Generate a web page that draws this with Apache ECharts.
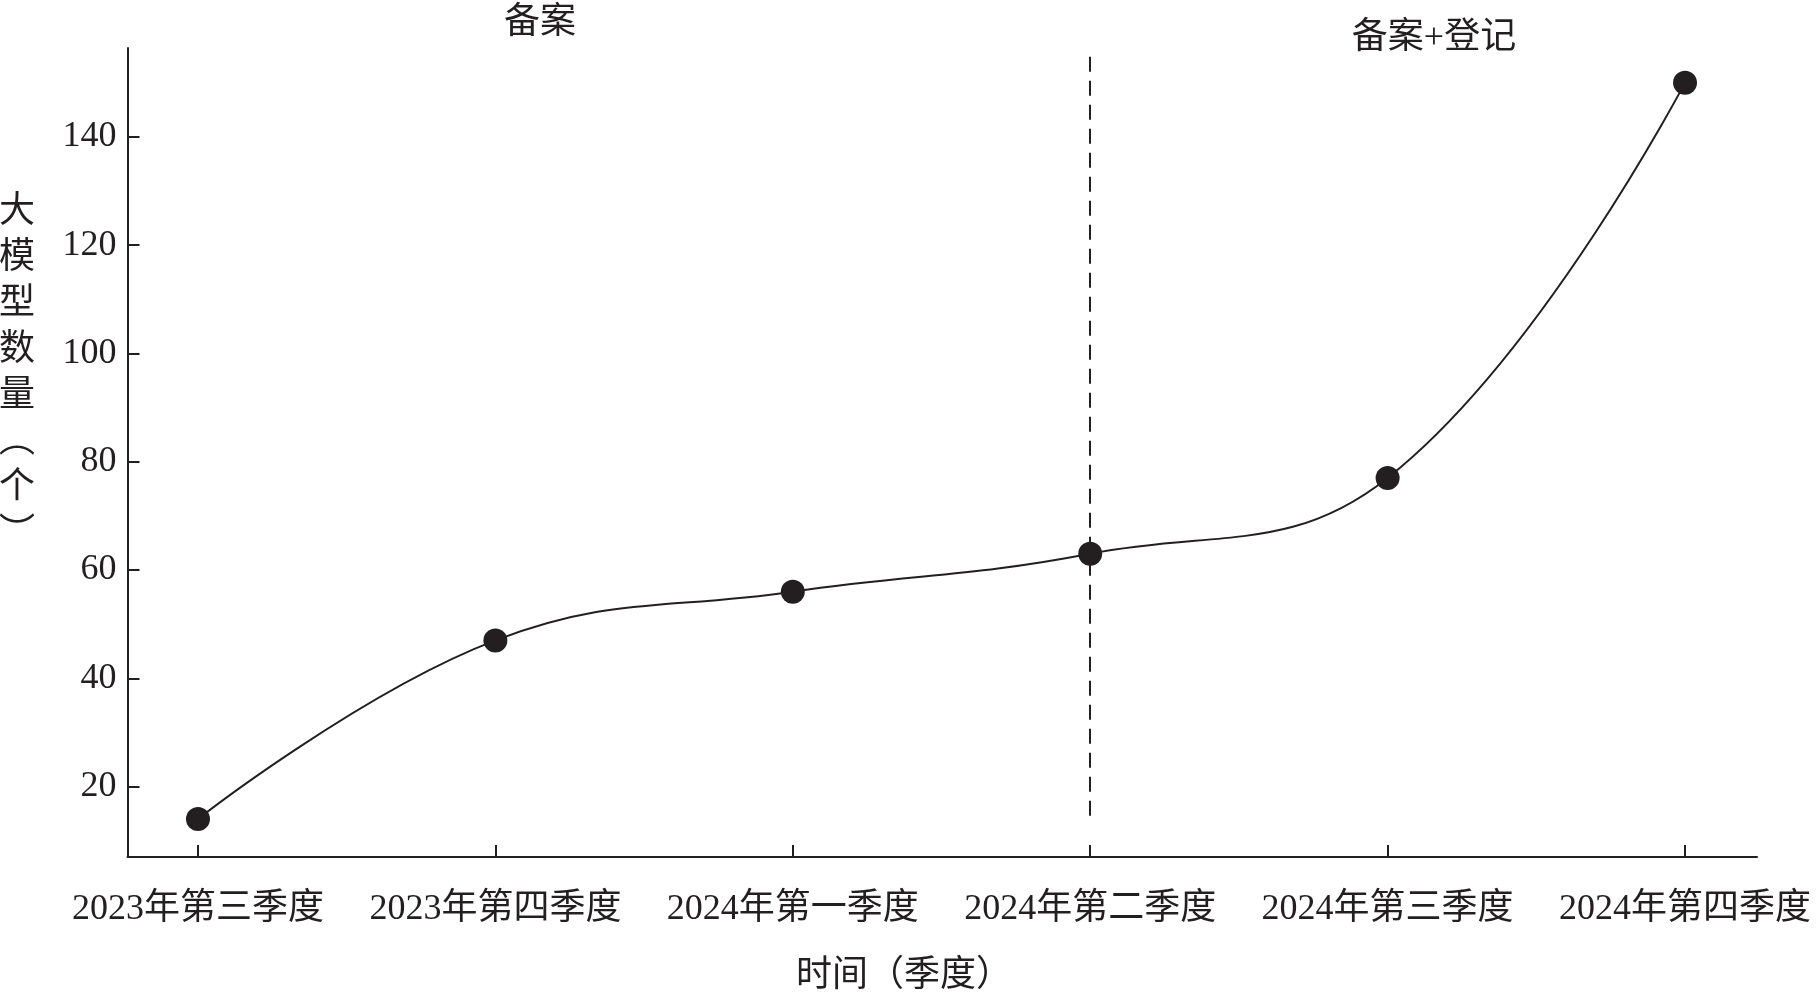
<!DOCTYPE html>
<html>
<head>
<meta charset="utf-8">
<script src="https://cdn.jsdelivr.net/npm/echarts@6/dist/echarts.min.js"></script>
<style>
html,body{margin:0;padding:0;background:#fff;}
#chart{width:1820px;height:992px;}
</style>
</head>
<body>
<div id="chart"></div>
<script>
const categories = ['2023年第三季度','2023年第四季度','2024年第一季度','2024年第二季度','2024年第三季度','2024年第四季度'];
const modelCounts = [14, 47, 56, 63, 77, 150];
const yTickValues = [20, 40, 60, 80, 100, 120, 140];
const yRange = [7, 156.4];
const xRange = [-0.237, 5.242];
const dividerIndex = 3;
const dividerSpan = [14.2, 154.8];
const yAxisName = '大\n模\n型\n数\n量\n︵\n个\n︶';
const xAxisName = '时间（季度）';
const phaseLabels = ['备案', '备案+登记'];

const ink = '#231f20';
const font = "'Liberation Serif', 'Noto Sans CJK SC', serif";
const xTickValues = categories.map((c, i) => i);
const seriesData = modelCounts.map((v, i) => [i, v]);

const chart = echarts.init(document.getElementById('chart'), null, {renderer: 'canvas'});
chart.setOption({
  backgroundColor: '#ffffff',
  animation: false,
  grid: {left: 127.5, right: 63, top: 48, bottom: 135, containLabel: false, outerBoundsMode: 'none'},
  xAxis: {
    type: 'value',
    min: xRange[0],
    max: xRange[1],
    splitLine: {show: false},
    axisLine: {show: true, onZero: false, lineStyle: {color: ink, width: 2}},
    axisTick: {show: true, inside: true, length: 12, customValues: xTickValues, lineStyle: {color: ink, width: 2}},
    axisLabel: {
      show: true, margin: 35, customValues: xTickValues,
      formatter: v => categories[Math.round(v)] || '',
      color: ink, fontSize: 36, fontFamily: font
    }
  },
  yAxis: {
    type: 'value',
    min: yRange[0],
    max: yRange[1],
    splitLine: {show: false},
    axisLine: {show: true, onZero: false, lineStyle: {color: ink, width: 2}},
    axisTick: {show: true, inside: true, length: 12, customValues: yTickValues, lineStyle: {color: ink, width: 2}},
    axisLabel: {
      show: true, margin: 11, customValues: yTickValues,
      color: ink, fontSize: 36, fontFamily: font
    }
  },
  series: [{
    type: 'line',
    data: seriesData,
    smooth: 0.42,
    symbol: 'circle',
    symbolSize: 24,
    lineStyle: {color: ink, width: 2},
    itemStyle: {color: ink},
    z: 3,
    markLine: {
      silent: true,
      symbol: 'none',
      label: {show: false},
      lineStyle: {color: ink, width: 2, type: [15, 9]},
      data: [[{coord: [dividerIndex, dividerSpan[1]]}, {coord: [dividerIndex, dividerSpan[0]]}]]
    }
  }],
  graphic: [
    {type: 'text', x: 17, y: 190, style: {text: yAxisName, fill: ink, font: '36px ' + font, lineHeight: 46, textAlign: 'center', textVerticalAlign: 'top'}},
    {type: 'text', x: 904, y: 977, style: {text: xAxisName, fill: ink, font: '36px ' + font, textAlign: 'center', textVerticalAlign: 'middle'}},
    {type: 'text', x: 540, y: 24, style: {text: phaseLabels[0], fill: ink, font: '36px ' + font, textAlign: 'center', textVerticalAlign: 'middle'}},
    {type: 'text', x: 1434, y: 39, style: {text: phaseLabels[1], fill: ink, font: '36px ' + font, textAlign: 'center', textVerticalAlign: 'middle'}}
  ]
});
</script>
</body>
</html>
